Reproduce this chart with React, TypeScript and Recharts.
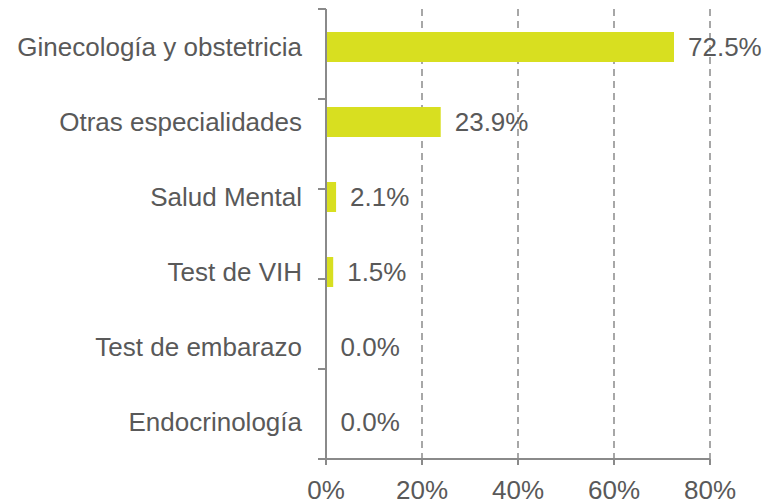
import React from 'react';
import { BarChart, Bar, XAxis, YAxis, CartesianGrid, LabelList } from 'recharts';

const categories = [
  'Ginecología y obstetricia',
  'Otras especialidades',
  'Salud Mental',
  'Test de VIH',
  'Test de embarazo',
  'Endocrinología',
];
const shares = [72.5, 23.9, 2.1, 1.5, 0.0, 0.0];
const xTicks = [0, 20, 40, 60, 80];
// boundaries between categories, used only for the little tick marks on the left axis
const bandEdges = [0, 1, 2, 3, 4, 5, 6];

const data = categories.map((name, i) => ({ name, value: shares[i] }));

const TEXT = '#595959';
const AXIS = '#8a8a8a';
const BAR = '#D8DF20';
const FONT = '"Liberation Sans", Arial, Helvetica, sans-serif';

const App = () => {
  return (
    <div style={{ position: 'absolute', left: 0, top: 0, background: '#fff' }}>
      <BarChart
        width={763}
        height={500}
        data={data}
        layout="vertical"
        margin={{ top: 9, right: 53, left: 0, bottom: 0 }}
        style={{ fontFamily: FONT }}
      >
        <CartesianGrid
          horizontal={false}
          yAxisId="b"
          stroke={AXIS}
          strokeWidth={1.5}
          strokeDasharray="7 5"
        />
        {/* axis "a" only carries the line and the tick marks between categories */}
        <YAxis
          yAxisId="a"
          type="number"
          domain={[0, 6]}
          ticks={bandEdges}
          interval={0}
          width={1}
          tickFormatter={() => ''}
          tickSize={8}
          tickMargin={0}
          axisLine={{ stroke: AXIS, strokeWidth: 2 }}
          tickLine={{ stroke: AXIS, strokeWidth: 2 }}
        />
        <YAxis
          yAxisId="b"
          type="category"
          dataKey="name"
          width={325}
          axisLine={false}
          tickLine={false}
          tickSize={0}
          tickMargin={23}
          interval={0}
          tick={{ fill: TEXT, fontSize: 26, fontFamily: FONT }}
        />
        <XAxis
          type="number"
          domain={[0, 80]}
          ticks={xTicks}
          interval={0}
          height={41}
          tickSize={6}
          tickMargin={16}
          tickFormatter={(v) => `${v}%`}
          axisLine={{ stroke: AXIS, strokeWidth: 2 }}
          tickLine={{ stroke: AXIS, strokeWidth: 2 }}
          tick={{ fill: TEXT, fontSize: 26, fontFamily: FONT }}
        />
        <Bar
          yAxisId="b"
          dataKey="value"
          fill={BAR}
          barSize={30}
          minPointSize={0.5}
          isAnimationActive={false}
        >
          <LabelList
            dataKey="value"
            position="right"
            offset={14}
            formatter={(v: number) => `${Number(v).toFixed(1)}%`}
            style={{ fill: TEXT, fontSize: 26, fontFamily: FONT }}
          />
        </Bar>
      </BarChart>
    </div>
  );
};

export default App;
